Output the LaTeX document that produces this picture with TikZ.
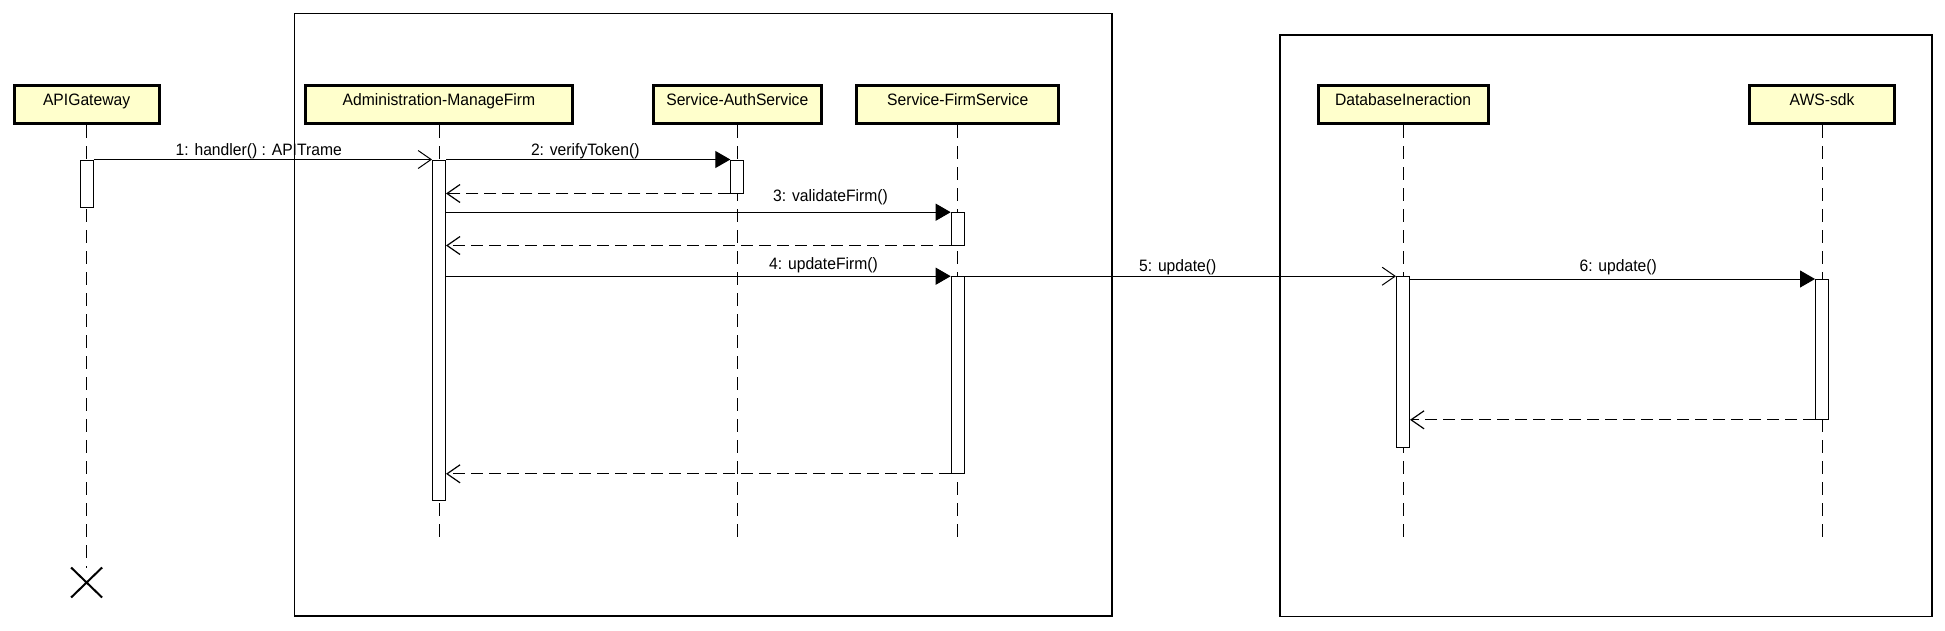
\documentclass[tikz,border=0pt]{standalone}
\usepackage{fontspec}
\setmainfont{Liberation Sans}[FakeStretch=0.95]
\usetikzlibrary{arrows.meta,shapes.misc}
\definecolor{objfill}{HTML}{FFFFCC}
\begin{document}
\begin{tikzpicture}[x=1pt,y=-1pt,
  every node/.style={font=\fontsize{16.5}{19}\selectfont},
  obj/.style={draw, line width=3pt, fill=objfill, minimum height=38pt,
    inner xsep=0pt, inner ysep=0pt, text height=20pt, text depth=18pt},
  act/.style={draw, fill=white, line width=1pt, minimum width=13pt, inner sep=0pt},
  lifeline/.style={line width=1pt, dash pattern=on 13pt off 8pt},
  frame/.style={draw, line width=1.3pt},
  sync/.style={line width=1pt, -{Triangle[length=15pt,width=17pt]}},
  async/.style={line width=1pt, -{Straight Barb[length=13pt,width=18pt]}},
  ret/.style={line width=1.2pt, dash pattern=on 12pt off 6pt, -{Straight Barb[length=13pt,width=18pt]}},
  lbl/.style={anchor=base, inner sep=0pt}
]
\useasboundingbox (0,0) rectangle (1945,630);

% frames
\draw[frame] (294.5,13.3) rectangle (1112,616);
\draw[frame] (1280,35) rectangle (1932,616.5);

% objects
\node[obj, minimum width=145pt] (api) at (86.6,104.5) {APIGateway};
\node[obj, minimum width=267pt] (adm) at (439,104.5) {Administration-ManageFirm};
\node[obj, minimum width=168pt] (auth) at (737.3,104.5) {Service-AuthService};
\node[obj, minimum width=202pt] (firm) at (957.7,104.5) {Service-FirmService};
\node[obj, minimum width=170pt] (db) at (1403,104.5) {DatabaseIneraction};
\node[obj, minimum width=145.5pt] (aws) at (1822,104.5) {AWS-sdk};

% destruction mark and lifeline ends
\node[cross out, draw, line width=2pt, minimum width=29pt, minimum height=28pt, inner sep=0pt] (apiX) at (86.6,582.5) {};
\coordinate (admEnd) at (439,542);
\coordinate (authEnd) at (737.3,542);
\coordinate (firmEnd) at (957.7,542);
\coordinate (dbEnd) at (1403,542);
\coordinate (awsEnd) at (1822,542);

% lifelines
\draw[lifeline] (api.south) -- (apiX.north);
\draw[lifeline] (adm.south) -- (admEnd);
\draw[lifeline] (auth.south) -- (authEnd);
\draw[lifeline] (firm.south) -- (firmEnd);
\draw[lifeline] (db.south) -- (dbEnd);
\draw[lifeline] (aws.south) -- (awsEnd);

% activations
\node[act, minimum height=47pt] (aApi) at (86.6,183.5) {};
\node[act, minimum height=340pt] (aAdm) at (439,330) {};
\node[act, minimum height=33pt] (aAuth) at (737.3,176.5) {};
\node[act, minimum height=32.3pt] (aFirm1) at (957.7,228.85) {};
\node[act, minimum height=196.6pt] (aFirm2) at (957.7,375) {};
\node[act, minimum height=171pt] (aDb) at (1403,362.2) {};
\node[act, minimum height=139.8pt] (aAws) at (1822,349.4) {};

% messages
\draw[async] (aApi.north east) -- node[lbl, pos=0.488, yshift=4pt] {1: handler() : APITrame} (aAdm.north west);
\draw[sync] (aAdm.north east) -- node[lbl, pos=0.49, yshift=4pt] {2: verifyToken()} (aAuth.north west);
\draw[ret] (aAuth.south west) -- (aAdm.east |- aAuth.south);
\draw[sync] (aAdm.east |- aFirm1.north) -- node[lbl, pos=0.762, yshift=11pt] {3: validateFirm()} (aFirm1.north west);
\draw[ret] (aFirm1.south west) -- (aAdm.east |- aFirm1.south);
\draw[sync] (aAdm.east |- aFirm2.north) -- node[lbl, pos=0.748, yshift=7pt] {4: updateFirm()} (aFirm2.north west);
\draw[async] (aFirm2.north east) -- node[lbl, pos=0.494, yshift=4.5pt] {5: update()} (aDb.north west);
\draw[sync] (aDb.east |- aAws.north) -- node[lbl, pos=0.514, yshift=8pt] {6: update()} (aAws.north west);
\draw[ret] (aAws.south west) -- (aDb.east |- aAws.south);
\draw[ret] (aFirm2.south west) -- (aAdm.east |- aFirm2.south);
\end{tikzpicture}
\end{document}
